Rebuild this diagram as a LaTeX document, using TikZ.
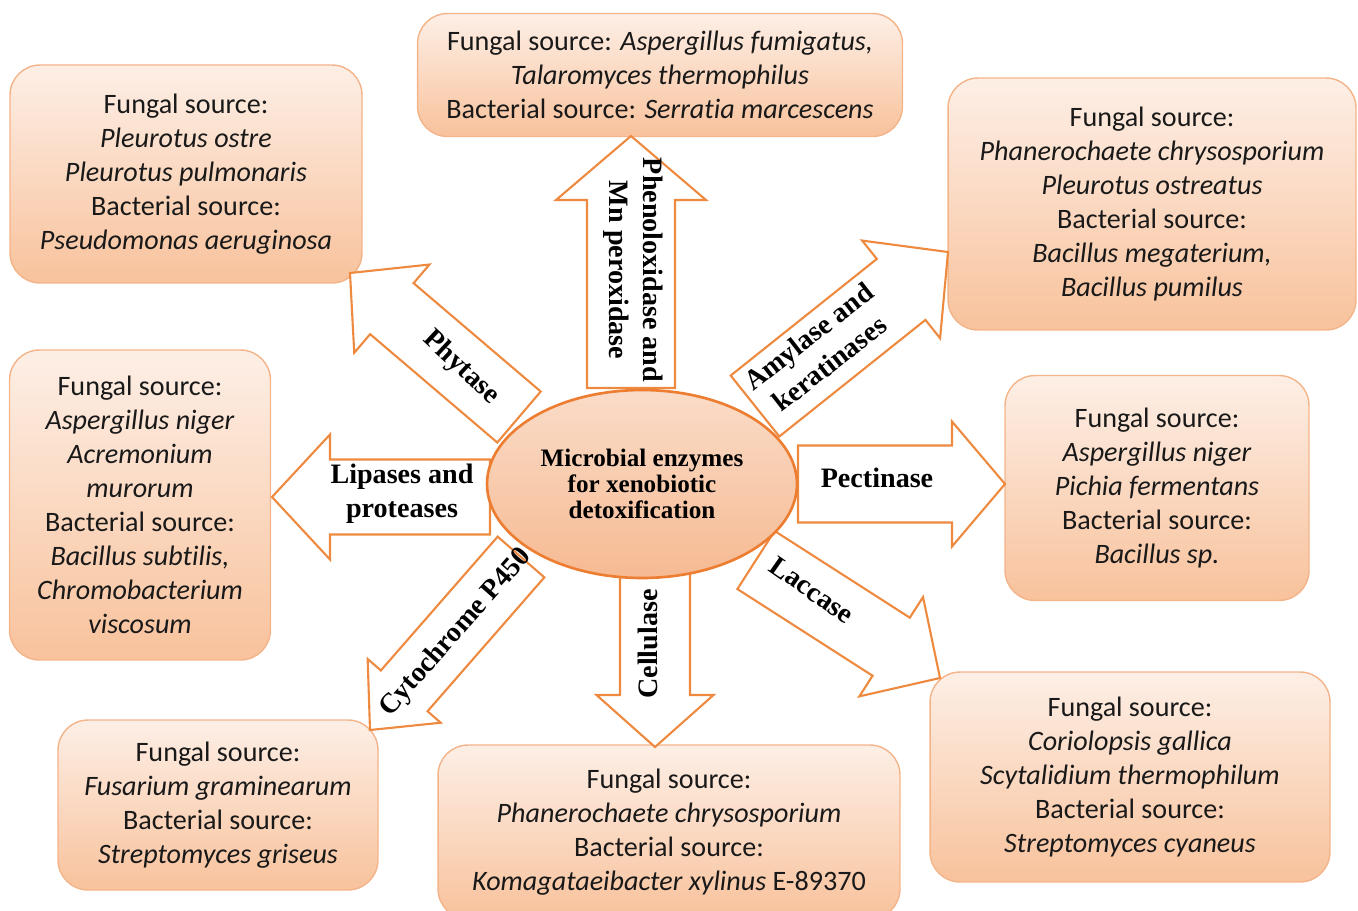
\documentclass[tikz,border=0pt]{standalone}
\usepackage{fontspec}
\setmainfont{Carlito}[Ligatures=NoCommon]
\newfontfamily\timesfont{Liberation Serif}
\usepackage{tikz}
\usetikzlibrary{shapes.geometric, calc}
\usepackage{xcolor}

\definecolor{boxtop}{HTML}{FDEFE6}
\definecolor{boxbot}{HTML}{F8C29C}
\definecolor{boxline}{HTML}{F4B48A}
\definecolor{arrline}{HTML}{EE8A40}
\definecolor{hubtop}{HTML}{FADCC8}
\definecolor{hubbot}{HTML}{F6BA92}
\definecolor{hubline}{HTML}{ED7D31}

% block arrow: tail, tip, shaft half width, head half width, head length
\newcommand{\enzarrow}[5]{%
  \coordinate (#2-base) at ($(#2)!#5!(#1)$);
  \draw[arr] ($(#1)!#3!90:(#2)$) -- ($(#2-base)!#3!90:(#2)$)
    -- ($(#2-base)!#4!90:(#2)$) -- (#2) -- ($(#2-base)!#4!-90:(#2)$)
    -- ($(#2-base)!#3!-90:(#2)$) -- ($(#1)!#3!-90:(#2)$) -- cycle;
}

\begin{document}
\begin{tikzpicture}[
  x=0.02cm, y=-0.02cm,
  srcbox/.style={rectangle, draw=boxline, line width=0.8pt, rounded corners=0.6cm,
    top color=boxtop, bottom color=boxbot, align=center, inner sep=0pt,
    text=black!90, font=\fontsize{16}{19.3}\selectfont},
  arr/.style={draw=arrline, fill=white, line width=1.2pt, line join=miter},
  lbl/.style={align=center, inner sep=0pt,
    font=\timesfont\bfseries\fontsize{16}{19.5}\selectfont},
  hub/.style={ellipse, draw=hubline, line width=1.5pt, top color=hubtop,
    bottom color=hubbot, minimum width=6.2cm, minimum height=3.76cm,
    align=center, inner sep=0pt,
    font=\timesfont\bfseries\fontsize{14.3}{15}\selectfont}
]
\clip (0,0) rectangle (1358,910);

% source boxes
\node[srcbox, minimum width=7.04cm, minimum height=4.36cm] (phytbox) at (186,174) {
  Fungal source:\\ \textit{Pleurotus ostre}\\ \textit{Pleurotus pulmonaris}\\
  Bacterial source:\\ \textit{Pseudomonas aeruginosa}};
\node[srcbox, minimum width=9.7cm, minimum height=2.46cm] (phenbox) at (660,75) {
  Fungal source: \textit{Aspergillus fumigatus,}\\ \textit{Talaromyces thermophilus}\\
  Bacterial source: \textit{Serratia marcescens}};
\node[srcbox, minimum width=8.16cm, minimum height=5.04cm] (amylbox) at (1152,204) {
  Fungal source:\\ \textit{Phanerochaete chrysosporium}\\ \textit{Pleurotus ostreatus}\\
  Bacterial source:\\ \textit{Bacillus megaterium,}\\ \textit{Bacillus pumilus}};
\node[srcbox, minimum width=5.22cm, minimum height=6.2cm] (lipbox) at (140,505) {
  Fungal source:\\ \textit{Aspergillus niger}\\ \textit{Acremonium}\\ \textit{murorum}\\
  Bacterial source:\\ \textit{Bacillus subtilis,}\\ \textit{Chromobacterium}\\ \textit{viscosum}};
\node[srcbox, minimum width=6.08cm, minimum height=4.5cm] (pectbox) at (1157,488) {
  Fungal source:\\ \textit{Aspergillus niger}\\ \textit{Pichia fermentans}\\
  Bacterial source:\\ \textit{Bacillus sp.}};
\node[srcbox, minimum width=6.4cm, minimum height=3.4cm] (cytbox) at (218,805) {
  Fungal source:\\ \textit{Fusarium graminearum}\\
  Bacterial source:\\ \textit{Streptomyces griseus}};
\node[srcbox, minimum width=9.24cm, minimum height=3.48cm] (cellbox) at (669,832) {
  Fungal source:\\ \textit{Phanerochaete chrysosporium}\\
  Bacterial source:\\ \textit{Komagataeibacter xylinus} E-89370};
\node[srcbox, minimum width=8cm, minimum height=4.2cm] (laccbox) at (1130,777) {
  Fungal source:\\ \textit{Coriolopsis gallica}\\ \textit{Scytalidium thermophilum}\\
  Bacterial source:\\ \textit{Streptomyces cyaneus}};

% arrow ends
\coordinate (phenTail) at (631,388);  \coordinate (phenTip) at (631,136);
\coordinate (cellTail) at (655,560);  \coordinate (cellTip) at (655,747);
\coordinate (pectTail) at (798,484);  \coordinate (pectTip) at (1005,484);
\coordinate (lipTail) at (490,497);   \coordinate (lipTip) at (272,497);
\coordinate (phytTail) at (519,417);  \coordinate (phytTip) at (350,273);
\coordinate (amylTail) at (755,406);  \coordinate (amylTip) at (948,252);
\coordinate (laccTail) at (756,560);  \coordinate (laccTip) at (940,678);
\coordinate (cytTail) at (521,557);   \coordinate (cytTip) at (370,730);

\enzarrow{phenTail}{phenTip}{0.88cm}{1.5cm}{1.28cm}
\enzarrow{cellTail}{cellTip}{0.7cm}{1.17cm}{1.04cm}
\enzarrow{pectTail}{pectTip}{0.77cm}{1.25cm}{1.06cm}
\enzarrow{lipTail}{lipTip}{0.75cm}{1.25cm}{1.16cm}
\enzarrow{phytTail}{phytTip}{0.67cm}{1.16cm}{1.1cm}
\enzarrow{amylTail}{amylTip}{0.78cm}{1.25cm}{1.2cm}
\enzarrow{laccTail}{laccTip}{0.69cm}{1.18cm}{1.16cm}
\enzarrow{cytTail}{cytTip}{0.62cm}{0.97cm}{1.04cm}

% arrow labels
\node[lbl, rotate=-90] (phenlbl) at (633,270) {Phenoloxidase and\\Mn peroxidase};
\node[lbl, rotate=90] (celllbl) at (648,644) {Cellulase};
\node[lbl] (pectlbl) at (877,478) {Pectinase};
\node[lbl] (liplbl) at (402,494) {Lipases and\\proteases};
\node[lbl, rotate=-43] (phytlbl) at (461,368) {Phytase};
\node[lbl, rotate=38] (amyllbl) at (819,350) {Amylase and\\keratinases};
\node[lbl, rotate=-35] (lacclbl) at (812,590) {Laccase};
\node[lbl, rotate=48.5] (cytlbl) at (456,633) {Cytochrome P450};

% centre
\node[hub] (hub) at (642,484) {Microbial enzymes\\for xenobiotic\\detoxification};
\end{tikzpicture}
\end{document}
